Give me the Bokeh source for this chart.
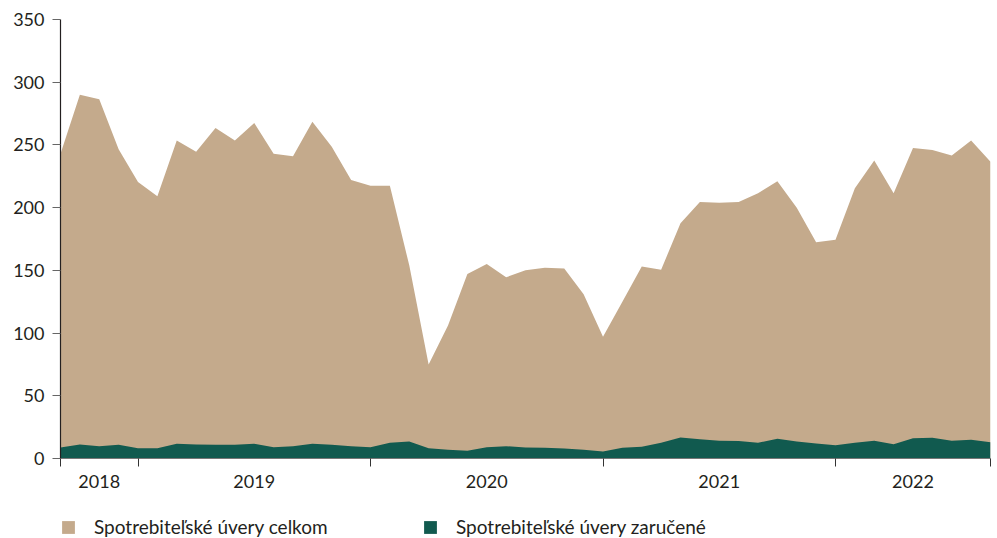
from bokeh.plotting import figure
from bokeh.layouts import column
from bokeh.models import Range1d, FixedTicker, Legend, LegendItem
from bokeh.embed import file_html
from bokeh.resources import INLINE

# Monthly data, September 2018 .. September 2022 (index 0..48)
start_month = "2018-09"
years = ["2018", "2019", "2020", "2021", "2022"]
year_starts = [0, 4, 16, 28, 40, 48]  # month index of year boundaries (Jan), plus ends

total = [243, 290, 286.5, 246.5, 220.5, 209, 253.5, 244.5, 263.5, 253.5, 267.5, 243,
         241, 268.5, 248.5, 222, 217.5, 217.5, 154, 75, 106, 147, 155, 144.5,
         150, 152, 151.5, 131, 97, 125, 153, 150.5, 187.5, 204.5, 204, 204.5,
         211.5, 221, 200, 172.5, 174.5, 215.5, 237.5, 211.5, 247.5, 246, 241.5, 253.5,
         236.5]
guaranteed = [8.8, 11.2, 9.8, 10.9, 8.2, 8.2, 11.7, 11.2, 10.9, 10.9, 11.7, 9.0,
              9.8, 11.7, 10.9, 9.8, 9.0, 12.5, 13.6, 8.2, 6.9, 6.1, 9.0, 9.8,
              8.8, 8.5, 7.9, 6.9, 5.6, 8.5, 9.3, 12.5, 16.8, 15.4, 14.1, 14.0,
              12.5, 15.7, 13.6, 12.0, 10.6, 12.5, 14.1, 11.4, 16.2, 16.5, 14.1, 14.9,
              13.0]
series_names = ["Spotrebiteľské úvery celkom", "Spotrebiteľské úvery zaručené"]
colors = ["#c4aa8c", "#115a4f"]

x = list(range(len(total)))
zeros = [0] * len(total)

FONT = "Lato"
TXT = "#231f20"

p = figure(width=995, height=496, output_backend="svg", toolbar_location=None,
           x_range=Range1d(0, len(total) - 1), y_range=Range1d(0, 350),
           min_border_left=60, min_border_right=5, min_border_top=19, min_border_bottom=38)
p.outline_line_color = None
p.xgrid.visible = False
p.ygrid.visible = False

r1 = p.varea(x=x, y1=zeros, y2=total, fill_color=colors[0])
r2 = p.varea(x=x, y1=zeros, y2=guaranteed, fill_color=colors[1])

# y axis
p.yaxis.ticker = FixedTicker(ticks=[0, 50, 100, 150, 200, 250, 300, 350])
p.yaxis.axis_line_color = "#231f20"
p.yaxis.axis_line_width = 1.2
p.yaxis.major_tick_line_color = "#666666"
p.yaxis.major_tick_out = 8
p.yaxis.major_tick_in = 0
p.yaxis.minor_tick_line_color = None
p.yaxis.major_label_standoff = 8
p.yaxis.major_label_text_font = FONT
p.yaxis.major_label_text_font_size = "18px"
p.yaxis.major_label_text_color = TXT

# x axis: labels centred in each year, ticks on year boundaries
mids = [(year_starts[i] + year_starts[i + 1]) / 2 for i in range(len(years))]
p.xaxis.ticker = FixedTicker(ticks=mids, minor_ticks=year_starts)
p.xaxis.major_label_overrides = {m: y for m, y in zip(mids, years)}
p.xaxis.major_tick_line_color = None
p.xaxis.major_tick_out = 0
p.xaxis.major_tick_in = 0
p.xaxis.minor_tick_line_color = "#333333"
p.xaxis.minor_tick_out = 8
p.xaxis.minor_tick_in = 0
p.xaxis.axis_line_color = "#777777"
p.xaxis.axis_line_width = 1.2
p.xaxis.major_label_standoff = 8
p.xaxis.major_label_text_font = FONT
p.xaxis.major_label_text_font_size = "18px"
p.xaxis.major_label_text_color = TXT

# legend strip below the chart (zero-height areas only provide the legend swatches)
q = figure(width=995, height=42, output_backend="svg", toolbar_location=None,
           x_range=Range1d(0, 1), y_range=Range1d(0, 1),
           x_axis_location=None, y_axis_location=None,
           min_border_left=0, min_border_right=0, min_border_top=0, min_border_bottom=0)
q.outline_line_color = None
q.xgrid.visible = False
q.ygrid.visible = False
l1 = q.varea(x=[0, 1], y1=[0, 0], y2=[0, 0], fill_color=colors[0])
l2 = q.varea(x=[0, 1], y1=[0, 0], y2=[0, 0], fill_color=colors[1])

lg = Legend(items=[LegendItem(label=n, renderers=[r]) for n, r in zip(series_names, [l1, l2])],
            location=(0, 0), orientation="horizontal", padding=0, margin=0, spacing=28,
            border_line_color=None, background_fill_alpha=0,
            glyph_width=16, glyph_height=16, label_standoff=18, label_width=300,
            label_text_font=FONT, label_text_font_size="19px",
            label_text_color=TXT)
q.add_layout(lg, "center")

layout = column(p, q, spacing=0)
open("out.html", "w").write(file_html(layout, INLINE))
